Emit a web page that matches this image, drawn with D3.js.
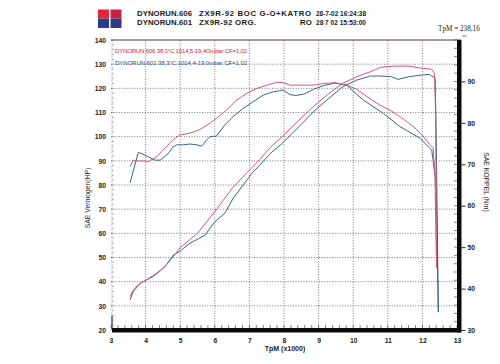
<!DOCTYPE html>
<html>
<head>
<meta charset="utf-8">
<script src="https://cdn.jsdelivr.net/npm/d3@7"></script>
<style>
  html, body { margin: 0; padding: 0; background: #fff; }
  svg { display: block; }
  text { font-family: "Liberation Sans", Arial, sans-serif; }
</style>
</head>
<body>
<svg id="chart" width="500" height="364"></svg>
<script>
// ---------------- DATA ----------------
const rpmTicks = [3, 4, 5, 6, 7, 8, 9, 10, 11, 12, 13];
const hpTicks = [20, 30, 40, 50, 60, 70, 80, 90, 100, 110, 120, 130, 140];
const nmTicks = [30, 40, 50, 60, 70, 80, 90];

const headerRuns = ["DYNORUN.606", "DYNORUN.601"];
const headerBikes = ["ZX9R-92 BOC G-O+KATRO", "ZX9R-92 ORG."];
const headerRo = ["", "RO"];
const headerDates = ["28-7-02 16:24:38", "28 7 02 15:53:00"];
const legendLines = [
  "DYNORUN.606 38,3°C  1014,5-19,4Ombar  CF=1,02",
  "DYNORUN.601 38,3°C  1014,4-19,0mbar  CF=1,02"
];
const tpmLabel = "TpM = 238,16";
const xTitle = "TpM (x1000)";
const yLeftTitle = "SAE Vermogen(HP)";
const yRightTitle = "SAE KOPPEL (Nm)";

// power (HP, left axis) — [rpm x1000, HP]
const power606 = [[3.55,33.8],[3.64,36.5],[3.84,39.3],[4.22,42.1],[4.51,45.5],[4.80,50.3],[5.00,54.1],
  [5.50,60.0],[6.00,69.0],[6.50,78.6],[7.00,86.2],[7.30,90.5],[7.60,95.5],[7.95,100.0],[8.43,106.9],
  [8.90,113.1],[9.30,117.9],[9.70,122.1],[10.10,124.8],[10.50,126.9],[10.80,128.7],[11.20,129.2],
  [11.60,129.2],[11.98,128.3],[12.27,127.9],[12.35,126.2],[12.38,110.0],[12.41,45.6]];
const power601 = [[3.55,32.4],[3.64,35.8],[3.84,39.3],[4.03,40.7],[4.32,43.5],[4.56,46.2],[4.80,51.0],
  [5.00,52.7],[5.28,55.9],[5.52,57.7],[5.72,59.3],[6.00,64.8],[6.29,68.3],[6.53,74.5],[6.82,80.0],
  [7.11,85.5],[7.31,88.3],[7.60,93.0],[7.95,97.2],[8.43,104.1],[8.90,111.0],[9.30,115.9],[9.70,120.7],
  [10.10,123.4],[10.50,125.1],[10.80,125.1],[11.10,124.8],[11.30,123.7],[11.60,124.8],[11.98,125.5],
  [12.20,125.8],[12.37,124.1],[12.40,100.0],[12.46,27.4]];
// torque (Nm, right axis) — [rpm x1000, Nm]
const torque606 = [[3.55,69.4],[3.64,71.0],[3.79,70.8],[3.98,70.8],[4.07,70.6],[4.32,71.8],[4.56,73.9],
  [4.80,75.9],[4.99,77.1],[5.28,77.5],[5.57,78.4],[5.86,79.9],[6.05,81.1],[6.34,83.1],[6.63,85.5],
  [6.92,87.1],[7.21,88.3],[7.50,89.1],[7.79,89.8],[7.98,89.7],[8.17,89.1],[8.46,89.1],[8.84,89.1],
  [9.15,89.5],[9.47,89.7],[9.81,89.1],[10.10,88.1],[10.49,85.8],[10.77,84.3],[11.06,83.1],[11.35,81.5],
  [11.73,79.2],[12.02,76.8],[12.22,74.7],[12.31,73.9],[12.36,68.0],[12.41,44.9]];
const torque601 = [[3.55,65.5],[3.79,72.9],[4.08,71.8],[4.27,71.0],[4.42,71.0],[4.61,72.2],[4.80,74.2],
  [4.90,74.7],[5.09,74.7],[5.28,74.9],[5.48,74.7],[5.62,74.4],[5.77,75.9],[5.86,76.7],[6.05,76.8],
  [6.29,79.5],[6.53,81.5],[6.82,83.5],[7.11,85.1],[7.40,86.7],[7.69,87.5],[7.98,87.9],[8.17,86.8],
  [8.35,86.6],[8.60,87.0],[8.85,88.1],[9.15,89.0],[9.47,89.6],[9.81,89.1],[10.29,85.5],[10.87,82.3],
  [11.35,79.1],[11.93,76.3],[12.27,73.4],[12.40,65.0],[12.46,34.3]];

// ---------------- DRAW ----------------
const RED = "#d4577a", BLUE = "#3b6684";
const svg = d3.select("#chart");

const x = d3.scaleLinear().domain([3, 13]).range([111, 457]);
const yL = d3.scaleLinear().domain([20, 140]).range([330, 40]);
const yR = d3.scaleLinear().domain([30, 100]).range([330, 40]);

// header logo
const logo = svg.append("g");
logo.append("rect").attr("x", 98).attr("y", 9.5).attr("width", 11).attr("height", 9).attr("fill", "#e52434");
logo.append("rect").attr("x", 110.5).attr("y", 9.5).attr("width", 11).attr("height", 9).attr("fill", "#c81f45");
logo.append("rect").attr("x", 98).attr("y", 18.5).attr("width", 11).attr("height", 9.5).attr("fill", "#2b3c8c");
logo.append("rect").attr("x", 110.5).attr("y", 18.5).attr("width", 11).attr("height", 9.5).attr("fill", "#2e3a84");

// header texts
const hdr = svg.append("g").attr("font-size", 7.8).attr("font-weight", "bold").attr("fill", "#1a1a1a");
headerRuns.forEach((t, i) => {
  const y0 = 15.5 + i * 9;
  hdr.append("text").attr("x", 137).attr("y", y0).attr("textLength", 55).text(t);
  hdr.append("text").attr("x", 199).attr("y", y0)
    .attr("textLength", i === 0 ? 112 : 57).text(headerBikes[i]);
  if (headerRo[i]) hdr.append("text").attr("x", 300).attr("y", y0).text(headerRo[i]);
  hdr.append("text").attr("x", 316).attr("y", y0).attr("textLength", 50)
    .attr("lengthAdjust", "spacingAndGlyphs").text(headerDates[i]);
});

svg.append("text").attr("x", 438).attr("y", 31).attr("font-size", 7.2)
  .style("font-family", "'Liberation Serif', 'Times New Roman', serif").attr("fill", "#222").text(tpmLabel);
svg.append("text").attr("x", 462).attr("y", 37).attr("font-size", 5)
  .style("font-family", "'Liberation Serif', serif").attr("fill", "#444").text("oc");

// grid
const grid = svg.append("g");
rpmTicks.filter(d => d > 3 && d < 13).forEach(d => {
  grid.append("line").attr("x1", x(d)).attr("x2", x(d)).attr("y1", yL(140)).attr("y2", yL(20))
    .attr("stroke", "#555").attr("stroke-width", 0.8).attr("stroke-dasharray", "1,1.6");
});
hpTicks.filter(d => d > 20 && d < 140).forEach(d => {
  grid.append("line").attr("x1", x(3)).attr("x2", x(13)).attr("y1", yL(d)).attr("y2", yL(d))
    .attr("stroke", "#555").attr("stroke-width", 0.8).attr("stroke-dasharray", "1,1.6");
});

// left axis line + minor ticks
svg.append("line").attr("x1", x(3) + 1).attr("x2", x(3) + 1).attr("y1", yL(140)).attr("y2", yL(20))
  .attr("stroke", "#888").attr("stroke-width", 0.7).attr("stroke-dasharray", "1,1");
svg.append("line").attr("x1", x(3) + 1).attr("x2", x(3) + 1).attr("y1", yL(26)).attr("y2", yL(20))
  .attr("stroke", "#111").attr("stroke-width", 1);
d3.range(20, 141, 2).forEach(d => {
  svg.append("line").attr("x1", x(3) + 1).attr("x2", x(3) + 3).attr("y1", yL(d)).attr("y2", yL(d))
    .attr("stroke", "#888").attr("stroke-width", 0.6);
});

// top border
svg.append("line").attr("x1", x(3)).attr("x2", 461).attr("y1", yL(140)).attr("y2", yL(140))
  .attr("stroke", "#6b2a3c").attr("stroke-width", 1.2);

// bottom minor ticks
d3.range(3, 13.01, 0.2).forEach(d => {
  svg.append("line").attr("x1", x(d)).attr("x2", x(d)).attr("y1", yL(20) - 2).attr("y2", yL(20) - 5)
    .attr("stroke", "#333").attr("stroke-width", 0.6);
});
// right minor ticks
d3.range(30, 100.01, 2).forEach(d => {
  svg.append("line").attr("x1", x(13)).attr("x2", x(13) - 3).attr("y1", yR(d)).attr("y2", yR(d))
    .attr("stroke", "#333").attr("stroke-width", 0.6);
});

// curves
const lineL = d3.line().x(d => x(d[0])).y(d => yL(d[1]));
const lineR = d3.line().x(d => x(d[0])).y(d => yR(d[1]));
const curves = svg.append("g").attr("fill", "none").attr("stroke-width", 1);
curves.append("path").attr("d", lineR(torque601)).attr("stroke", BLUE);
curves.append("path").attr("d", lineR(torque606)).attr("stroke", RED);
curves.append("path").attr("d", lineL(power601)).attr("stroke", BLUE);
curves.append("path").attr("d", lineL(power606)).attr("stroke", RED);

// thick bottom and right axis bars
svg.append("rect").attr("x", x(3) + 1).attr("y", yL(20) - 2).attr("width", 461 - x(3) - 1).attr("height", 4.5).attr("fill", "#0a0a0a");
svg.append("rect").attr("x", x(13)).attr("y", yL(140)).attr("width", 4.5).attr("height", yL(20) + 2.5 - yL(140)).attr("fill", "#0a0a0a");

// axes labels via d3 axes
const axB = svg.append("g").attr("transform", `translate(0,${yL(20)})`)
  .call(d3.axisBottom(x).tickValues(rpmTicks).tickSize(0).tickPadding(8).tickFormat(d3.format("d")));
const axL = svg.append("g").attr("transform", `translate(${x(3)},0)`)
  .call(d3.axisLeft(yL).tickValues(hpTicks).tickSize(0).tickPadding(5).tickFormat(d3.format("d")));
const axR = svg.append("g").attr("transform", `translate(461.5,0)`)
  .call(d3.axisRight(yR).tickValues(nmTicks).tickSize(4).tickPadding(2).tickFormat(d3.format("d")));
[axB, axL, axR].forEach(a => {
  a.select(".domain").remove();
  a.selectAll("text").attr("font-size", 6.8).attr("font-weight", "bold").attr("fill", "#222")
    .style("font-family", "'Liberation Sans', Arial, sans-serif");
  a.selectAll("line").attr("stroke", "#111").attr("stroke-width", 0.9);
});

// legend lines inside plot
svg.append("text").attr("x", 115).attr("y", 52.5).attr("font-size", 6).attr("fill", "#d2223f")
  .attr("textLength", 132).text(legendLines[0]);
svg.append("text").attr("x", 115).attr("y", 65).attr("font-size", 6).attr("fill", "#2c4d8c")
  .attr("textLength", 132).text(legendLines[1]);

// axis titles
svg.append("text").attr("transform", "translate(90,198) rotate(-90)").attr("text-anchor", "middle")
  .attr("font-size", 6.8).attr("fill", "#222").text(yLeftTitle);
svg.append("text").attr("transform", "translate(484,182) rotate(90)").attr("text-anchor", "middle")
  .attr("font-size", 6.8).attr("fill", "#222").text(yRightTitle);
svg.append("text").attr("x", 285).attr("y", 351).attr("text-anchor", "middle")
  .attr("font-size", 7).attr("font-weight", "bold").attr("fill", "#222").text(xTitle);
</script>
</body>
</html>
